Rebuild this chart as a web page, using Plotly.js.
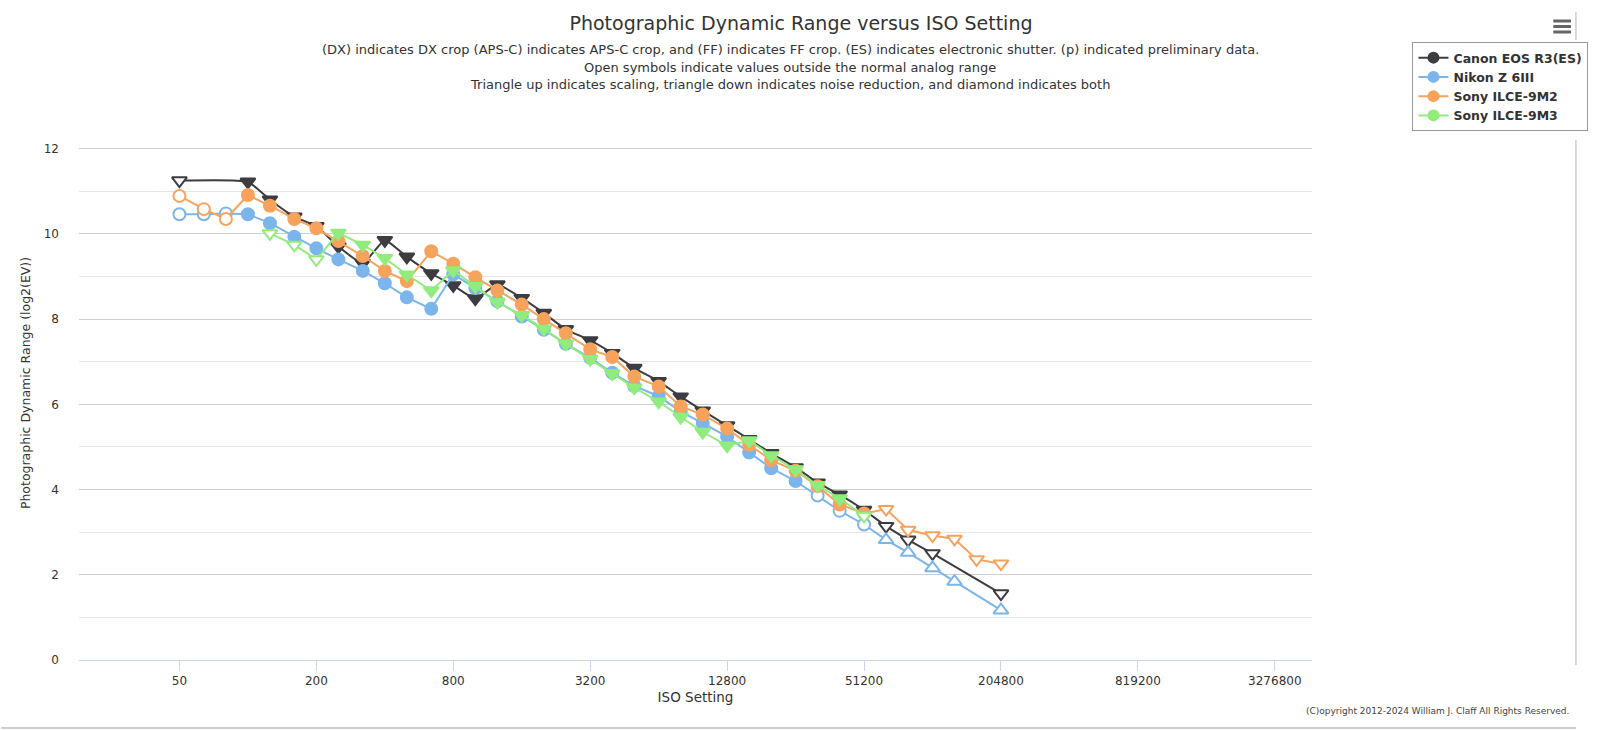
<!DOCTYPE html>
<html>
<head>
<meta charset="utf-8">
<script src="https://cdn.plot.ly/plotly-3.0.1.min.js"></script>
<style>
  body { margin: 0; background: #fff; }
  #chart { width: 1600px; height: 730px; }
</style>
</head>
<body>
<div id="chart"></div>
<script>
// ISO setting ticks (every 2 stops)
const isoTicks = [50, 200, 800, 3200, 12800, 51200, 204800, 819200, 3276800];

// Canon EOS R3 (electronic shutter)
const canonIso = [50, 100, 125, 160, 200, 250, 320, 400, 500, 640, 800, 1000, 1250, 1600, 2000, 2500, 3200,
  4000, 5000, 6400, 8000, 10000, 12800, 16000, 20000, 25600, 32000, 40000, 51200, 64000, 80000, 102400, 204800];
const canonDr = [11.25, 11.22, 10.80, 10.40, 10.18, 9.70, 9.31, 9.85, 9.46, 9.07, 8.79, 8.48, 8.81, 8.49, 8.14, 7.76, 7.50,
  7.20, 6.85, 6.54, 6.18, 5.85, 5.50, 5.18, 4.85, 4.52, 4.16, 3.88, 3.52, 3.14, 2.82, 2.50, 1.56];
const canonOutside = [1, 0, 0, 0, 0, 0, 0, 0, 0, 0, 0, 0, 0, 0, 0, 0, 0,
  0, 0, 0, 0, 0, 0, 0, 0, 0, 0, 0, 0, 1, 1, 1, 1];
const canonProc = canonIso.map(() => "nr");

// Nikon Z 6III
const nikonIso = [50, 64, 80, 100, 125, 160, 200, 250, 320, 400, 500, 640, 800, 1000, 1250, 1600, 2000, 2500,
  3200, 4000, 5000, 6400, 8000, 10000, 12800, 16000, 20000, 25600, 32000, 40000, 51200, 64000, 80000, 102400, 128000, 204800];
const nikonDr = [10.46, 10.46, 10.48, 10.46, 10.25, 9.93, 9.66, 9.40, 9.13, 8.84, 8.51, 8.24, 9.05, 8.73, 8.42, 8.06, 7.75, 7.42,
  7.09, 6.74, 6.43, 6.19, 5.83, 5.56, 5.24, 4.87, 4.50, 4.20, 3.86, 3.50, 3.18, 2.82, 2.52, 2.16, 1.84, 1.17];
const nikonOutside = [1, 1, 1, 0, 0, 0, 0, 0, 0, 0, 0, 0, 0, 0, 0, 0, 0, 0,
  0, 0, 0, 0, 0, 0, 0, 0, 0, 0, 1, 1, 1, 1, 1, 1, 1, 1];
const nikonProc = nikonIso.map((iso) => (iso > 51200 ? "scale" : "none"));

// Sony ILCE-9M2
const a9m2Iso = [50, 64, 80, 100, 125, 160, 200, 250, 320, 400, 500, 640, 800, 1000, 1250, 1600, 2000, 2500,
  3200, 4000, 5000, 6400, 8000, 10000, 12800, 16000, 20000, 25600, 32000, 40000, 51200, 64000, 80000, 102400, 128000, 160000, 204800];
const a9m2Dr = [10.89, 10.58, 10.35, 10.91, 10.66, 10.35, 10.13, 9.83, 9.48, 9.13, 8.89, 9.59, 9.30, 8.98, 8.67, 8.34, 8.00, 7.67,
  7.29, 7.11, 6.65, 6.42, 5.95, 5.76, 5.43, 5.05, 4.69, 4.44, 4.08, 3.65, 3.44, 3.54, 3.05, 2.92, 2.84, 2.36, 2.26];
const a9m2Outside = [1, 1, 1, 0, 0, 0, 0, 0, 0, 0, 0, 0, 0, 0, 0, 0, 0, 0,
  0, 0, 0, 0, 0, 0, 0, 0, 0, 0, 0, 0, 0, 1, 1, 1, 1, 1, 1];
const a9m2Proc = a9m2Iso.map((iso) => (iso > 51200 ? "nr" : "none"));

// Sony ILCE-9M3
const a9m3Iso = [125, 160, 200, 250, 320, 400, 500, 640, 800, 1000, 1250, 1600, 2000, 2500,
  3200, 4000, 5000, 6400, 8000, 10000, 12800, 16000, 20000, 25600, 32000, 40000, 51200];
const a9m3Dr = [10.01, 9.74, 9.40, 10.02, 9.74, 9.43, 9.04, 8.67, 9.14, 8.77, 8.40, 8.09, 7.77, 7.42,
  7.06, 6.72, 6.39, 6.06, 5.70, 5.35, 5.03, 5.15, 4.80, 4.47, 4.10, 3.79, 3.38];
const a9m3Outside = [1, 1, 1, 0, 0, 0, 0, 0, 0, 0, 0, 0, 0, 0,
  0, 0, 0, 0, 0, 0, 0, 0, 0, 0, 0, 0, 1];
const a9m3Proc = a9m3Iso.map(() => "nr");

const cameras = [
  { name: "Canon EOS R3(ES)", iso: canonIso, dr: canonDr, outside: canonOutside, proc: canonProc, color: "#3c3c41", shape: "spline" },
  { name: "Nikon Z 6III", iso: nikonIso, dr: nikonDr, outside: nikonOutside, proc: nikonProc, color: "#7cb5ec", shape: "linear" },
  { name: "Sony ILCE-9M2", iso: a9m2Iso, dr: a9m2Dr, outside: a9m2Outside, proc: a9m2Proc, color: "#f7a35c", shape: "linear" },
  { name: "Sony ILCE-9M3", iso: a9m3Iso, dr: a9m3Dr, outside: a9m3Outside, proc: a9m3Proc, color: "#90ed7d", shape: "linear" },
];

const symbolFor = (p) => (p === "nr" ? "triangle-down" : p === "scale" ? "triangle-up" : "circle");

const FONT = "DejaVu Sans, Verdana, sans-serif";
const txt = "#333333";

let series = [];
for (const cam of cameras) {
  series.push({
    name: cam.name,
    x: cam.iso,
    y: cam.dr,
    type: "scatter",
    mode: "lines+markers",
    showlegend: false,
    line: { color: cam.color, width: 2, shape: cam.shape, smoothing: 0.45 },
    marker: {
      symbol: cam.proc.map(symbolFor),
      size: cam.proc.map((p) => (p === "none" ? 12 : 13)),
      color: cam.outside.map((o) => (o ? "#ffffff" : cam.color)),
      opacity: 1,
      line: { color: cam.color, width: 2 },
    },
    hovertemplate: "ISO %{x}<br>%{y:.2f} EV<extra>" + cam.name + "</extra>",
  });
}
// legend entries (circle symbols, as in the original legend)
for (const cam of cameras) {
  series.push({
    name: cam.name,
    x: [null],
    y: [null],
    type: "scatter",
    mode: "lines+markers",
    line: { color: cam.color, width: 2 },
    marker: { symbol: "circle", size: 12, color: cam.color },
  });
}

// plot area in pixels
const L = 79, R = 1331, T = 106, B = 660;
const px = (v) => (v - L) / (R - L);
const py = (v) => (B - v) / (B - T);

const subLines = [
  "(DX) indicates DX crop (APS-C) indicates APS-C crop, and (FF) indicates FF crop. (ES) indicates electronic shutter. (p) indicated preliminary data.",
  "Open symbols indicate values outside the normal analog range",
  "Triangle up indicates scaling, triangle down indicates noise reduction, and diamond indicates both",
];
const subY = [49, 67, 85];

let annotations = subLines.map((t, i) => ({
  text: t, xref: "paper", yref: "paper", x: px(801), y: py(subY[i]),
  xanchor: "center", yanchor: "middle", showarrow: false,
  font: { family: FONT, size: 13, color: txt },
}));
annotations.push({
  text: "(C)opyright 2012-2024 William J. Claff All Rights Reserved.",
  xref: "paper", yref: "paper", x: px(1594), y: py(711),
  xanchor: "right", yanchor: "middle", showarrow: false,
  font: { family: FONT, size: 9, color: "#444" },
});

// export menu icon and page frame
let shapes = [21, 26.5, 32].map((yy) => ({
  type: "line", xref: "paper", yref: "paper",
  x0: px(1576), x1: px(1594), y0: py(yy), y1: py(yy),
  line: { color: "#666", width: 3 },
}));
shapes.push({ type: "line", xref: "paper", yref: "paper", x0: px(0), x1: px(1599), y0: py(728), y1: py(728), line: { color: "#bbb", width: 1.5 } });
shapes.push({ type: "line", xref: "paper", yref: "paper", x0: px(1599), x1: px(1599), y0: py(140), y1: py(665), line: { color: "#ccc", width: 1.5 } });
shapes.push({ type: "line", xref: "paper", yref: "paper", x0: px(1599), x1: px(1599), y0: py(12), y1: py(40), line: { color: "#ccc", width: 1.5 } });

const layout = {
  width: 1600,
  height: 730,
  margin: { l: L, r: 1600 - R, t: T, b: 730 - B, pad: 0 },
  paper_bgcolor: "#fff",
  plot_bgcolor: "#fff",
  font: { family: FONT, size: 12, color: txt },
  title: {
    text: "Photographic Dynamic Range versus ISO Setting",
    x: 801 / 1600, xanchor: "center", xref: "container",
    y: 1 - 23 / 730, yanchor: "middle", yref: "container",
    font: { family: FONT, size: 19, color: txt },
  },
  xaxis: {
    type: "log",
    range: [1.2573, 6.679],
    tickvals: isoTicks,
    ticktext: isoTicks.map(String),
    showgrid: false,
    zeroline: false,
    showline: true,
    linecolor: "#ccd6eb",
    linewidth: 1,
    ticks: "outside",
    ticklen: 10,
    tickcolor: "#ccd6eb",
    tickfont: { family: FONT, size: 12, color: txt },
    title: { text: "ISO Setting", font: { family: FONT, size: 13.5, color: txt }, standoff: 5 },
    fixedrange: true,
  },
  yaxis: {
    range: [0, 13],
    tickvals: [0, 2, 4, 6, 8, 10, 12],
    showgrid: true,
    gridcolor: "#cfcfcf",
    gridwidth: 1,
    zeroline: false,
    showline: false,
    ticks: "",
    ticklabelstandoff: 19,
    tickfont: { family: FONT, size: 12, color: txt },
    minor: { tickvals: [1, 3, 5, 7, 9, 11, 13], showgrid: true, gridcolor: "#e6e6e6", gridwidth: 1 },
    title: { text: "Photographic Dynamic Range (log2(EV))", font: { family: FONT, size: 12.5, color: txt }, standoff: 10 },
    fixedrange: true,
  },
  showlegend: true,
  legend: {
    x: px(1433), y: py(42), xanchor: "left", yanchor: "top",
    bgcolor: "#fff", bordercolor: "#999", borderwidth: 1,
    font: { family: FONT, size: 12.5, color: txt, weight: "bold" },
    itemwidth: 30,
    entrywidth: 150,
    entrywidthmode: "pixels",
    tracegroupgap: 0,
  },
  annotations: annotations,
  shapes: shapes,
};

Plotly.newPlot("chart", series, layout, { displayModeBar: false, responsive: false });
</script>
</body>
</html>
